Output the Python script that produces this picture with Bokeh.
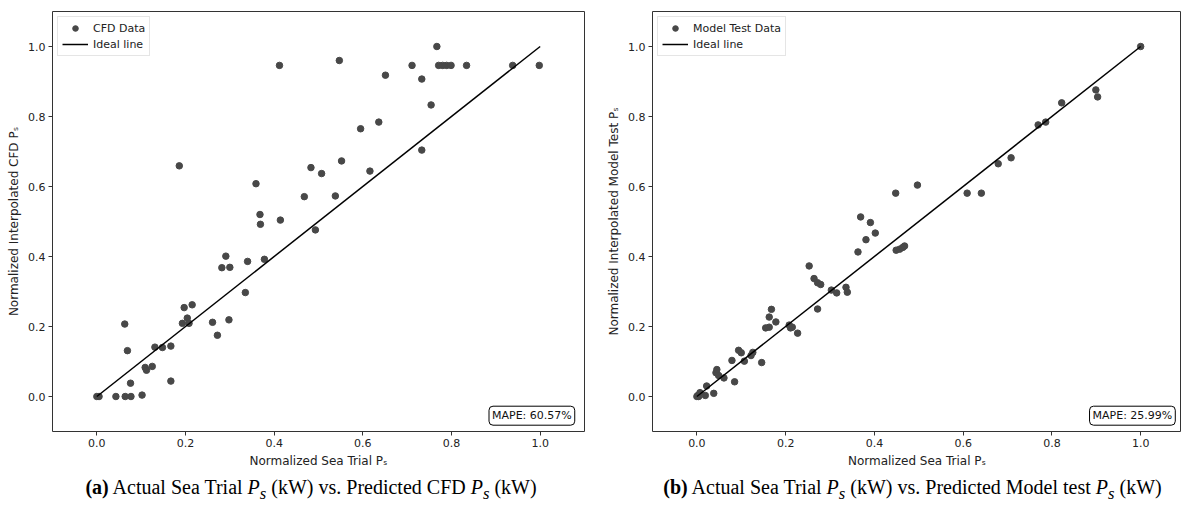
from bokeh.plotting import figure
from bokeh.layouts import row, column
from bokeh.models import FixedTicker, Label, Range1d, ColumnDataSource, NumeralTickFormatter, Div
from bokeh.embed import file_html
from bokeh.resources import INLINE

# ---- data (normalized) ----
cfd_x = [0.0, 0.005, 0.043, 0.064, 0.077, 0.102, 0.063, 0.069, 0.076, 0.109, 0.112, 0.125,
         0.131, 0.148, 0.167, 0.167, 0.193, 0.197, 0.204, 0.208, 0.215, 0.261, 0.272, 0.282,
         0.291, 0.300, 0.298, 0.335, 0.340, 0.368, 0.369, 0.378, 0.414, 0.493, 0.186, 0.412,
         0.547, 0.359, 0.468, 0.483, 0.507, 0.552, 0.538, 0.595, 0.616, 0.636, 0.651, 0.711,
         0.733, 0.733, 0.754, 0.767, 0.771, 0.780, 0.789, 0.799, 0.834, 0.938, 0.998]
cfd_y = [0.0, 0.0, 0.0, 0.0, 0.0, 0.004, 0.207, 0.131, 0.038, 0.083, 0.075, 0.086,
         0.141, 0.140, 0.144, 0.044, 0.209, 0.254, 0.224, 0.209, 0.262, 0.212, 0.175, 0.368,
         0.401, 0.369, 0.219, 0.297, 0.386, 0.520, 0.492, 0.392, 0.504, 0.476, 0.659, 0.946,
         0.960, 0.608, 0.571, 0.654, 0.637, 0.673, 0.573, 0.765, 0.644, 0.784, 0.918, 0.946,
         0.907, 0.704, 0.833, 1.0, 0.946, 0.946, 0.946, 0.946, 0.946, 0.946, 0.946]

mt_x = [0.0, 0.002, 0.004, 0.007, 0.019, 0.022, 0.038, 0.043, 0.045, 0.049, 0.061, 0.085,
        0.079, 0.094, 0.100, 0.107, 0.122, 0.126, 0.146, 0.155, 0.163, 0.163, 0.168, 0.178,
        0.208, 0.211, 0.215, 0.227, 0.253, 0.264, 0.272, 0.279, 0.272, 0.303, 0.315, 0.336,
        0.339, 0.363, 0.369, 0.381, 0.391, 0.402, 0.449, 0.457, 0.464, 0.468, 0.448, 0.497,
        0.609, 0.641, 0.679, 0.708, 0.769, 0.786, 0.822, 0.899, 0.903, 1.0]
mt_y = [0.0, 0.003, 0.0, 0.011, 0.003, 0.030, 0.009, 0.068, 0.077, 0.060, 0.053, 0.042,
        0.103, 0.132, 0.125, 0.101, 0.117, 0.126, 0.097, 0.196, 0.198, 0.227, 0.249, 0.213,
        0.204, 0.196, 0.198, 0.181, 0.373, 0.337, 0.325, 0.320, 0.250, 0.304, 0.296, 0.312,
        0.298, 0.413, 0.513, 0.448, 0.497, 0.467, 0.418, 0.421, 0.426, 0.430, 0.581, 0.604,
        0.581, 0.581, 0.665, 0.682, 0.776, 0.784, 0.839, 0.876, 0.856, 1.0]

ideal = [0.0, 1.0]
ticks = [0.0, 0.2, 0.4, 0.6, 0.8, 1.0]

FONT = "DejaVu Sans"
SERIF = "Liberation Serif"


def make(xs, ys, data_label, ylab, mape, width, left, right, xend):
    p = figure(width=width, height=470, output_backend="svg", toolbar_location=None,
               x_range=Range1d(-0.1, xend), y_range=Range1d(-0.1, 1.1),
               min_border_left=left, min_border_right=right, min_border_top=11,
               min_border_bottom=38)
    p.grid.visible = False
    p.outline_line_color = "#333333"
    p.outline_line_width = 1
    p.background_fill_color = "white"
    p.border_fill_color = "white"
    for ax in (p.xaxis, p.yaxis):
        ax.ticker = FixedTicker(ticks=ticks)
        ax.formatter = NumeralTickFormatter(format="0.0")
        ax.axis_line_color = None
        ax.major_tick_in = 0
        ax.major_tick_out = 4
        ax.minor_tick_line_color = None
        ax.major_tick_line_color = "#333333"
        ax.major_label_text_font = FONT
        ax.major_label_text_font_size = "11px"
        ax.major_label_text_color = "#222222"
        ax.axis_label_text_font = FONT
        ax.axis_label_text_font_size = "12px"
        ax.axis_label_text_font_style = "normal"
        ax.axis_label_text_color = "#222222"
        ax.major_label_standoff = 3
        ax.axis_label_standoff = 4
    p.xaxis.axis_label = "Normalized Sea Trial Pₛ"
    p.yaxis.axis_label = ylab

    src = ColumnDataSource(dict(x=xs, y=ys))
    p.scatter("x", "y", source=src, size=6.5, color="#484848", legend_label=data_label)
    p.line(ideal, ideal, line_color="black", line_width=1.5, legend_label="Ideal line")

    lg = p.legend[0]
    lg.location = "top_left"
    lg.margin = 5
    lg.padding = 4
    lg.spacing = 2
    lg.label_height = 14
    lg.glyph_height = 14
    lg.glyph_width = 26
    lg.label_text_font = FONT
    lg.label_text_font_size = "11px"
    lg.label_text_color = "#222222"
    lg.border_line_color = "#cccccc"
    lg.border_line_width = 1
    lg.background_fill_alpha = 0.8

    p.add_layout(Label(x=1.078, y=-0.082, text=mape, text_align="right", text_baseline="bottom",
                       text_font=FONT, text_font_size="11px", text_color="#111111",
                       border_line_color="black", border_line_width=1,
                       background_fill_color="white", padding=3, border_radius=4))
    return p


def caption(tag, html_text, width, pad_left):
    return Div(text=f"<b>{tag}</b> {html_text}", width=width, height=43,
               styles={"font-family": SERIF, "font-size": "20px", "color": "black",
                       "text-align": "center", "padding-top": "1px",
                       "padding-left": f"{pad_left}px", "box-sizing": "border-box",
                       "white-space": "nowrap", "line-height": "22px"})


P = "<i>P<sub>s</sub></i>"

p1 = make(cfd_x, cfd_y, "CFD Data", "Normalized Interpolated CFD Pₛ", "MAPE: 60.57%",
          590, 52, 6, 1.1)
p2 = make(mt_x, mt_y, "Model Test Data", "Normalized Interpolated Model Test Pₛ", "MAPE: 25.99%",
          591, 62, 0, 1.092)

c1 = caption("(a)", f"Actual Sea Trial {P} (kW) vs. Predicted CFD {P} (kW)", 590, 22)
c2 = caption("(b)", f"Actual Sea Trial {P} (kW) vs. Predicted Model test {P} (kW)", 591, 24)

layout = column(row(p1, p2), row(c1, c2))
open("out.html", "w").write(file_html(layout, INLINE))
